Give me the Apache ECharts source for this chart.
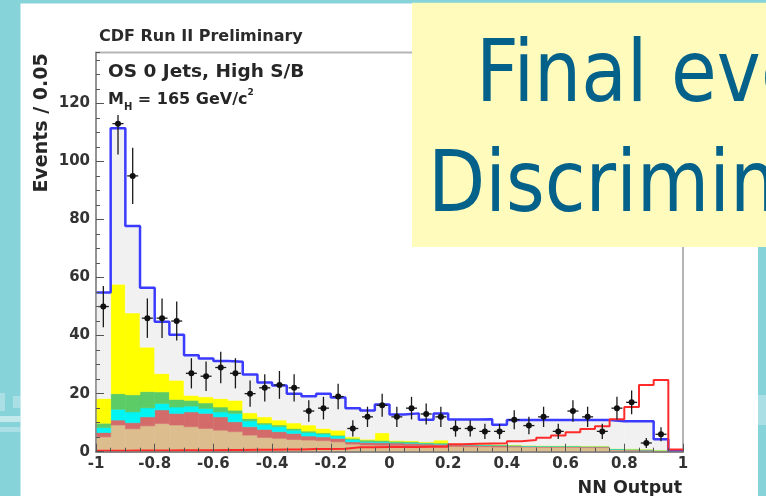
<!DOCTYPE html>
<html>
<head>
<meta charset="utf-8">
<title>CDF Run II - NN output, OS 0 jets high S/B</title>
<script src="https://cdn.jsdelivr.net/npm/echarts@6/dist/echarts.min.js"></script>
<style>
  html, body { margin: 0; padding: 0; background: #86d3da; }
  #chart { width: 766px; height: 496px; }
</style>
</head>
<body>
<div id="chart"></div>
<script>
// 40 bins of 0.05 between -1 and 1
const binLow = -1
const binWidth = 0.05

// background processes, events per bin (stacked bottom -> top)
const tan = [5.1, 9.2, 7.9, 8.9, 9.7, 9.2, 8.6, 8.0, 7.4, 6.9, 5.7, 4.9, 4.6, 4.2, 4.0, 3.8, 3.4, 2.6, 2.3, 2.2,
  2.1, 2.0, 1.9, 1.8, 1.8, 1.7, 1.7, 1.6, 1.6, 1.6, 1.5, 1.5, 1.5, 1.4, 1.4, 0.6, 0.5, 0.4, 0.3, 0.1]
const salmon = [1.5, 1.7, 2.1, 3.1, 4.7, 4.0, 5.1, 5.2, 4.6, 3.4, 2.9, 2.8, 2.3, 2.1, 1.4, 1.3, 1.2, 0.8, 0.9, 0.9,
  0.9, 0.9, 0.8, 0.8, 0.6, 0.6, 0.5, 0.5, 0.4, 0.3, 0.3, 0.3, 0.3, 0.3, 0.3, 0.2, 0.2, 0.2, 0.1, 0.05]
const cyan = [1.7, 3.7, 3.7, 3.1, 2.2, 2.2, 2.0, 1.7, 1.7, 2.9, 2.0, 1.7, 1.7, 1.1, 1.2, 1.0, 0.8, 0.8, 0.3, 0.3,
  0.2, 0.2, 0.2, 0.2, 0.1, 0.1, 0.1, 0.1, 0.1, 0.1, 0.1, 0.1, 0.1, 0.1, 0.1, 0.1, 0.1, 0.1, 0.1, 0.05]
const green = [1.5, 5.4, 5.9, 5.6, 4.0, 2.6, 2.0, 1.9, 1.7, 1.1, 0.8, 0.5, 0.6, 0.6, 0.5, 0.4, 0.3, 0.4, 0.5, 0.5,
  0.4, 0.4, 0.3, 0.2, 0.2, 0.2, 0.2, 0.2, 0.2, 0.2, 0.2, 0.2, 0.2, 0.2, 0.2, 0.2, 0.2, 0.2, 0.1, 0.05]
const yellow = [8.5, 37.7, 28.2, 15.3, 6.3, 6.6, 1.7, 2.1, 2.9, 3.4, 2.0, 2.1, 1.7, 1.9, 2.1, 1.5, 1.7, 0.5, 0.3, 2.6,
  0.3, 0.3, 0.2, 1.0, 0.1, 0.1, 0.1, 0.1, 0.1, 0, 0, 0, 0, 0, 0, 0, 0, 0, 0, 0]
// total background (blue outline), light grey fills the gap above yellow
const totalBkg = [54.8, 111.4, 77.7, 56.5, 44.8, 40.3, 33.2, 32.1, 31.2, 31.0, 26.6, 23.8, 22.8, 20.0, 19.1, 20.0,
  18.7, 15.0, 14.2, 16.3, 12.8, 13.2, 11.0, 13.2, 11.1, 11.1, 11.2, 9.3, 10.9, 10.9, 10.9, 10.9, 10.9, 10.9, 10.9,
  10.5, 10.5, 10.5, 4.3, 0.4]
// Higgs signal mH = 165 (red outline)
const signal = [0.3, 0.3, 0.4, 0.4, 0.4, 0.5, 0.5, 0.5, 0.6, 0.6, 0.7, 0.7, 0.8, 0.8, 0.9, 0.9, 1.0, 1.5, 1.5, 1.6,
  1.6, 1.6, 1.7, 1.7, 2.6, 2.7, 2.8, 2.9, 3.6, 4.0, 4.8, 5.6, 6.7, 7.8, 8.8, 11.2, 15.4, 23.0, 24.7, 0.8]
// data points and their errors (last bin empty)
const dataCounts = [50, 113, 95, 46, 46, 45, 27, 26, 29, 27, 20, 22, 23, 22, 14, 15, 19, 8, 12, 16,
  12, 15, 13, 12, 8, 8, 7, 7, 11, 9, 12, 7, 14, 12, 7, 15, 17, 3, 6]
const dataErrors = [7.1, 10.6, 9.7, 6.8, 6.8, 6.7, 5.2, 5.1, 5.4, 5.2, 4.5, 4.7, 4.8, 4.7, 3.7, 3.9, 4.4, 2.8, 3.5, 4.0,
  3.5, 3.9, 3.6, 3.5, 2.8, 2.8, 2.6, 2.6, 3.3, 3.0, 3.5, 2.6, 3.7, 3.5, 2.6, 3.9, 4.1, 1.7, 2.4]

const font = '"DejaVu Sans", sans-serif'
const chart = echarts.init(document.getElementById('chart'))

// running sums for the stack
const layers = [
  { name: 'tan', color: '#dcbd8e', vals: tan },
  { name: 'salmon', color: '#d46b6b', vals: salmon },
  { name: 'cyan', color: '#00f4f4', vals: cyan },
  { name: 'green', color: '#5ccc66', vals: green },
  { name: 'yellow', color: '#ffff00', vals: yellow },
]
let base = tan.map(() => 0)
const stackSeries = []
layers.forEach(l => {
  const top = base.map((b, i) => b + l.vals[i])
  stackSeries.push(histFill(l.name, l.color, base, top))
  base = top
})
stackSeries.push(histFill('grey', '#f1f1f1', base, totalBkg))

function histFill(name, color, lows, highs) {
  return {
    name,
    type: 'custom',
    silent: true,
    z: 1,
    data: lows.map((lo, i) => [binLow + i * binWidth, binLow + (i + 1) * binWidth, lo, Math.max(lo, highs[i])]),
    encode: { x: [0, 1], y: [2, 3] },
    renderItem: (params, api) => {
      const p0 = api.coord([api.value(0), api.value(3)])
      const p1 = api.coord([api.value(1), api.value(2)])
      return {
        type: 'rect',
        shape: { x: p0[0], y: p0[1], width: p1[0] - p0[0], height: p1[1] - p0[1] },
        style: { fill: color, stroke: color, lineWidth: 0.6 },
      }
    },
  }
}

function stepPoints(arr) {
  const pts = arr.map((v, i) => [binLow + i * binWidth, v])
  pts.push([binLow + arr.length * binWidth, arr[arr.length - 1]])
  return pts
}

chart.setOption({
  animation: false,
  backgroundColor: '#86d3da',
  grid: {
    left: 96, right: 83, top: 52.5, bottom: 44.3,
    show: true, borderColor: '#b5b5b5', borderWidth: 2,
  },
  xAxis: {
    type: 'value', min: -1, max: 1, interval: 0.2, z: 5,
    axisLine: { onZero: false, lineStyle: { color: '#777', width: 1.5 } },
    axisTick: { inside: true, length: 8, lineStyle: { color: '#555' } },
    minorTick: { show: true, splitNumber: 4, length: 4, lineStyle: { color: '#555' } },
    axisLabel: { margin: 5, fontFamily: font, fontWeight: 'bold', fontSize: 15, color: '#333' },
    splitLine: { show: false },
  },
  yAxis: [
    {
      type: 'value', min: 0, max: 137.5, interval: 20, z: 5,
      axisLine: { show: true, onZero: false, lineStyle: { color: '#888', width: 1.5 } },
      axisTick: { inside: true, length: 8, lineStyle: { color: '#555' } },
      axisLabel: { margin: 6, fontFamily: font, fontWeight: 'bold', fontSize: 15, color: '#333', showMaxLabel: false },
      splitLine: { show: false },
    },
    {
      type: 'value', min: 0, max: 137.5, interval: 5, position: 'left', z: 5,
      axisLine: { show: false, onZero: false },
      axisTick: { inside: true, length: 4, lineStyle: { color: '#555' } },
      axisLabel: { show: false },
      splitLine: { show: false },
    },
  ],
  series: [
    ...stackSeries,
    {
      name: 'total', type: 'line', step: 'end', z: 3, silent: true,
      data: stepPoints(totalBkg), symbol: 'none',
      lineStyle: { color: '#3b3bff', width: 2.5 },
    },
    {
      name: 'signal', type: 'line', step: 'end', z: 3, silent: true,
      data: stepPoints(signal), symbol: 'none',
      lineStyle: { color: '#ff2b2b', width: 2 },
    },
    {
      name: 'data', type: 'custom', z: 4, silent: true,
      data: dataCounts.map((n, i) => [binLow + (i + 0.5) * binWidth, n, dataErrors[i]]),
      encode: { x: 0, y: 1 },
      renderItem: (params, api) => {
        const x = api.value(0), y = api.value(1), e = api.value(2)
        const c = api.coord([x, y])
        const hi = api.coord([x, y + e])
        const lo = api.coord([x, Math.max(0, y - e)])
        const ls = { stroke: '#1a1a1a', lineWidth: 1.3 }
        return {
          type: 'group',
          children: [
            { type: 'line', shape: { x1: c[0], y1: hi[1], x2: c[0], y2: lo[1] }, style: ls },
            { type: 'line', shape: { x1: c[0] - 5.5, y1: c[1], x2: c[0] + 5.5, y2: c[1] }, style: ls },
            { type: 'circle', shape: { cx: c[0], cy: c[1], r: 3 }, style: { fill: '#111' } },
          ],
        }
      },
    },
  ],
  graphic: [
    // slide panel + bits of the slide texture
    { type: 'rect', z: -10, shape: { x: 20.5, y: 3.5, width: 737.5, height: 493 }, style: { fill: '#ffffff' } },
    { type: 'rect', z: -10, shape: { x: 0, y: 393, width: 5, height: 18 }, style: { fill: 'rgba(255,255,255,0.3)' } },
    { type: 'rect', z: -10, shape: { x: 13, y: 396, width: 7.5, height: 12 }, style: { fill: 'rgba(255,255,255,0.3)' } },
    { type: 'rect', z: -10, shape: { x: 0, y: 416, width: 20.5, height: 6 }, style: { fill: 'rgba(255,255,255,0.5)' } },
    { type: 'rect', z: -10, shape: { x: 0, y: 427, width: 20.5, height: 5 }, style: { fill: 'rgba(255,255,255,0.3)' } },
    { type: 'rect', z: -10, shape: { x: 758, y: 395, width: 8, height: 30 }, style: { fill: 'rgba(255,255,255,0.3)' } },

    // ROOT labels
    { type: 'text', z: 10, x: 99, y: 37, style: { text: 'CDF Run II Preliminary', font: 'bold 16px ' + font, fill: '#2a2a2a', verticalAlign: 'middle' } },
    { type: 'rect', z: 10, shape: { x: 105, y: 54, width: 300, height: 61 }, style: { fill: '#ffffff' } },
    { type: 'text', z: 11, x: 108, y: 72, style: { text: 'OS 0 Jets, High S/B', font: 'bold 18.5px ' + font, fill: '#262626', verticalAlign: 'middle' } },
    {
      type: 'text', z: 11, x: 108, y: 100,
      style: {
        text: '{a|M}{s|H}{a| = 165 GeV/c}{p|2}',
        verticalAlign: 'middle',
        rich: {
          a: { font: 'bold 16px ' + font, fill: '#262626', lineHeight: 24 },
          s: { font: 'bold 10px ' + font, fill: '#262626', lineHeight: 10, verticalAlign: 'bottom' },
          p: { font: 'bold 9px ' + font, fill: '#262626', lineHeight: 14, verticalAlign: 'top' },
        },
      },
    },
    { type: 'text', z: 10, x: 42, y: 123, rotation: Math.PI / 2, style: { text: 'Events / 0.05', font: 'bold 19px ' + font, fill: '#262626', align: 'center', verticalAlign: 'middle' } },
    { type: 'text', z: 10, x: 682, y: 488, style: { text: 'NN Output', font: 'bold 17.5px ' + font, fill: '#262626', align: 'right', verticalAlign: 'middle' } },

    // yellow slide box
    { type: 'rect', z: 20, shape: { x: 412, y: 2.7, width: 360, height: 244.3 }, style: { fill: '#fffbbd' } },
    { type: 'text', z: 21, x: 476, y: 79, scaleX: 0.865, style: { text: 'Final eve', font: '86px ' + font, fill: '#04618a', verticalAlign: 'middle' } },
    { type: 'text', z: 21, x: 428, y: 189, scaleX: 0.865, style: { text: 'Discrimin', font: '86px ' + font, fill: '#04618a', verticalAlign: 'middle' } },
  ],
})
</script>
</body>
</html>
